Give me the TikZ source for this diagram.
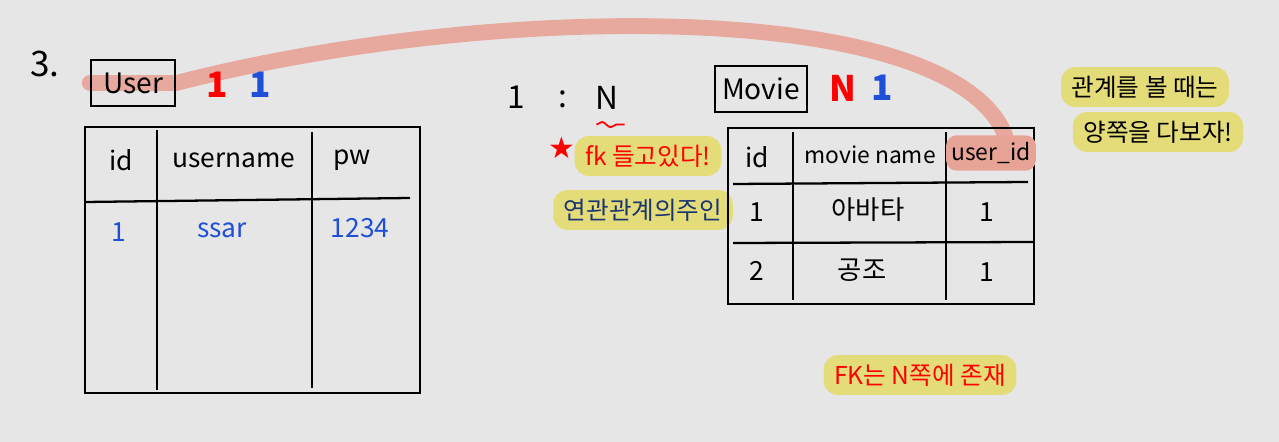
\documentclass[tikz,border=0pt]{standalone}
\usepackage{fontspec}
\setmainfont{Noto Sans CJK KR}
\newfontfamily\symfont{DejaVu Sans}
\usetikzlibrary{backgrounds,decorations.pathmorphing}
\definecolor{board}{HTML}{E6E6E6}
\definecolor{marker}{HTML}{E4DC78}
\definecolor{salmon}{HTML}{E8A397}
\definecolor{pen}{HTML}{1F4FD8}
\definecolor{navy}{HTML}{1A3570}

\begin{document}
\begin{tikzpicture}[x=0.02cm, y=-0.02cm,
  ink/.style={line width=1.3pt, black},
  cell/.style={font=\fontsize{15}{18}\selectfont},
  small/.style={font=\fontsize{13}{16}\selectfont},
  val/.style={cell, text=pen},
  tag/.style={draw, line width=1.2pt, inner xsep=4pt, inner ysep=7pt, font=\fontsize{16}{19}\selectfont},
  cardmark/.style={font=\bfseries\fontsize{20}{22}\selectfont},
  note/.style={fill=marker, rounded corners=8pt, inner xsep=6pt, inner ysep=5pt, font=\fontsize{14}{17}\selectfont},
  link/.style={salmon, line width=9pt, line cap=round, opacity=0.9}
]
  \useasboundingbox (0,0) rectangle (1279,442);

  \node[font=\fontsize{20}{22}\selectfont] (num) at (45,64) {3.};

  % User table
  \node[tag, inner xsep=7pt] (user) at (133,83) {User};
  \node[cardmark, text=red] (userone) at (217,85) {1};
  \node[cardmark, text=pen] (usertwo) at (260,85) {1};

  \draw[ink] (85,127) rectangle (420,393);
  \draw[ink] (157,130) -- (157,390);
  \draw[ink] (312,132) -- (312,388);
  \draw[ink] (85,202) -- (410,198);

  \node[cell] (uid) at (121,160) {id};
  \node[cell] (uname) at (234,160) {username};
  \node[cell] (upw) at (352,160) {pw};
  \node[val] (uidval) at (119,232) {1};
  \node[val] (unameval) at (222,230) {ssar};
  \node[val] (upwval) at (360,228) {1234};

  % ratio
  \node[font=\fontsize{18}{20}\selectfont] (left) at (516,97) {1};
  \node[font=\fontsize{18}{20}\selectfont] (colon) at (563,99) {:};
  \node[font=\fontsize{18}{20}\selectfont] (right) at (607,98) {N};
  \draw[red, line width=1pt, decorate, decoration={snake, amplitude=1.5pt, segment length=10pt}]
    ([xshift=-6pt, yshift=-5pt]right.south) -- ([xshift=10pt, yshift=-5pt]right.south);

  \node[text=red, font=\symfont\fontsize{17}{20}\selectfont] (star) at (562,148) {★};
  \node[note, text=red] (fk) at (648,156) {fk 들고있다!};
  \node[note, text=navy] (owner) at (643,210) {연관관계의주인};

  % Movie table
  \node[tag] (movie) at (761,89) {Movie};
  \node[cardmark, text=red] (movien) at (843,88) {N};
  \node[cardmark, text=pen] (movieone) at (882,88) {1};

  \draw[ink] (728,128) rectangle (1034,304);
  \draw[ink] (793,132) -- (793,300);
  \draw[ink] (946,132) -- (946,300);
  \draw[ink] (733,184) -- (1028,182);
  \draw[ink] (733,243) -- (1034,242);

  \node[cell] (mid) at (757,157) {id};
  \node[small] (mname) at (870,155) {movie name};
  \node[small, fill=salmon, rounded corners=6pt, inner xsep=3pt, inner ysep=4pt] (userid) at (991,153) {user\_id};
  \node[cell] (midone) at (757,212) {1};
  \node[cell] (mnameone) at (868,210) {아바타};
  \node[cell] (muone) at (987,212) {1};
  \node[cell] (midtwo) at (757,271) {2};
  \node[cell] (mnametwo) at (862,270) {공조};
  \node[cell] (mutwo) at (987,272) {1};

  % notes
  \node[note] (look) at (1145,87) {관계를 볼 때는};
  \node[note] (both) at (1158,132) {양쪽을 다보자!};
  \node[note, text=red] (fkside) at (920,375) {FK는 N쪽에 존재};

  \begin{scope}[on background layer]
    \fill[board] (0,0) rectangle (1279,442);
    \draw[link] (user.west) -- (user.east) .. controls (500,0) and (950,0) .. ([xshift=8pt]userid.north);
  \end{scope}
\end{tikzpicture}
\end{document}
